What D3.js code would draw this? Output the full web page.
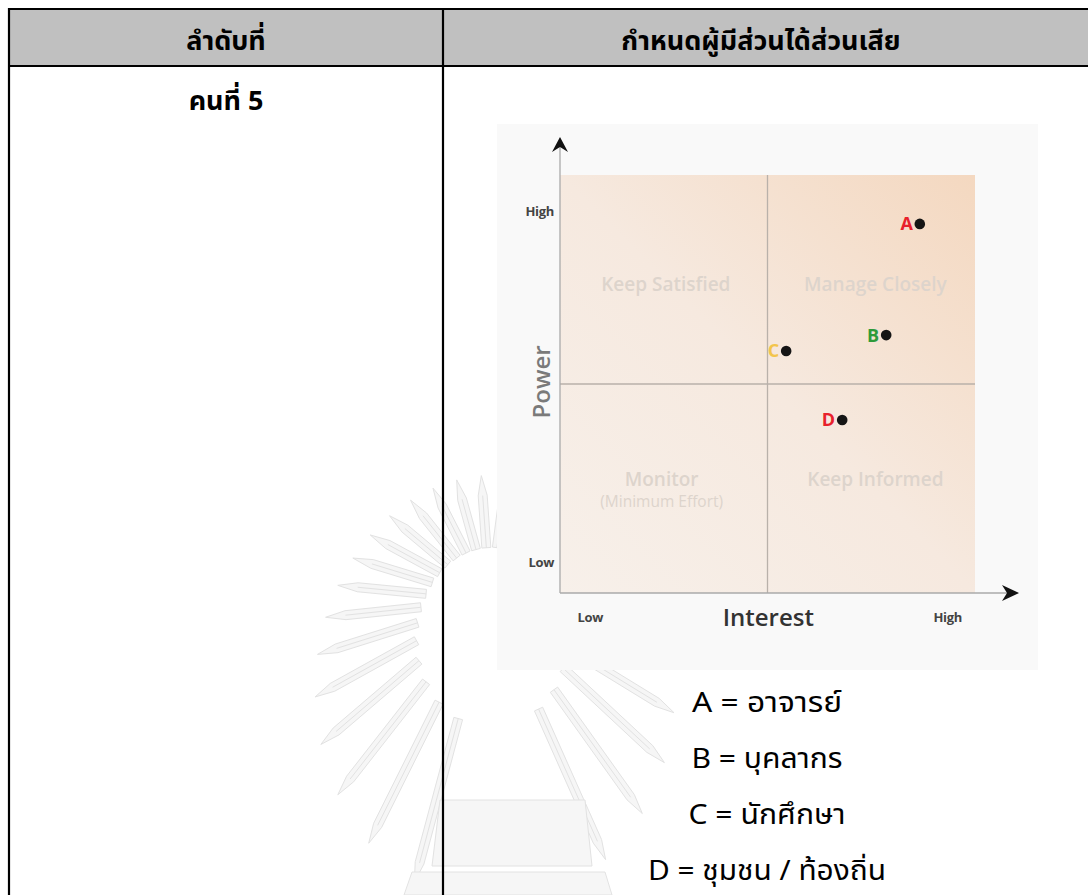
<!DOCTYPE html>
<html><head><meta charset="utf-8">
<script src="https://cdn.jsdelivr.net/npm/d3@7"></script>
<style>
body{margin:0;background:#fff;}
svg{display:block;}
</style></head>
<body>
<svg id="c" width="1088" height="895"></svg>
<script>
// ---- data ----
const headers = ["ลำดับที่", "กำหนดผู้มีส่วนได้ส่วนเสีย"];
const rowLabel = "คนที่ 5";
const stakeholders = ["A", "B", "C", "D"];
const interest = [8.67, 7.86, 5.45, 6.80];
const power = [8.83, 6.17, 5.79, 4.14];
const labelColors = ["#e8212b", "#2e9a3a", "#f3c54c", "#e8212b"];
const quadrantNames = ["Keep Satisfied", "Manage Closely", "Monitor", "Keep Informed"];
const quadrantSub = ["", "", "(Minimum Effort)", ""];
const quadrantX = [2.55, 7.6, 2.45, 7.6];
const quadrantY = [7.22, 7.22, 2.56, 2.56];
const xTickValues = [0.72, 9.33];
const yTickValues = [0.74, 9.14];
const tickLabels = ["Low", "High"];
const legendLines = ["A = อาจารย์", "B = บุคลากร", "C = นักศึกษา", "D = ชุมชน / ท้องถิ่น"];

const svg = d3.select("#c");
const thai = "Tahoma, 'Noto Sans Thai', 'Noto Sans', 'DejaVu Sans', sans-serif";
const latin = "'Open Sans', 'Noto Sans', sans-serif";

// ---- watermark (faint emblem rays, decorative) ----
const wm = svg.append("g").attr("fill", "#f6f6f6").attr("stroke", "#e2e2e2").attr("stroke-width", 1);
const wo = [490, 600], ec = [495, 690], ea = 180, eb = 215;
function tipDist(dx, dy) {
  let lo = 0, hi = 600;
  for (let k = 0; k < 40; k++) {
    const m = (lo + hi) / 2;
    const px = (wo[0] + m * dx - ec[0]) / ea, py = (wo[1] + m * dy - ec[1]) / eb;
    if (px * px + py * py < 1) lo = m; else hi = m;
  }
  return lo;
}
const rayAngles = d3.range(-255, -78, 11.5).concat(d3.range(-72, 72, 11.5));
rayAngles.forEach((a) => {
  const r = a * Math.PI / 180;
  const cx = Math.cos(r), cy = Math.sin(r);
  const r1 = tipDist(cx, cy), r0 = r1 * 0.42, w = 4.5;
  const px = -cy, py = cx;
  const pts = [
    [wo[0] + cx * r0 + px * w, wo[1] + cy * r0 + py * w],
    [wo[0] + cx * (r1 - 20) + px * w, wo[1] + cy * (r1 - 20) + py * w],
    [wo[0] + cx * r1, wo[1] + cy * r1],
    [wo[0] + cx * (r1 - 20) - px * w, wo[1] + cy * (r1 - 20) - py * w],
    [wo[0] + cx * r0 - px * w, wo[1] + cy * r0 - py * w]
  ];
  wm.append("path").attr("d", d3.line()(pts) + "Z");
  wm.append("line").attr("x1", wo[0] + cx * r0).attr("y1", wo[1] + cy * r0)
    .attr("x2", wo[0] + cx * (r1 - 20)).attr("y2", wo[1] + cy * (r1 - 20));
});
wm.append("path").attr("d", "M440,800 L585,800 L592,866 L432,866 Z");
wm.append("path").attr("d", "M412,872 L605,872 L612,895 L404,895 Z");

// ---- table ----
const tLeft = 9, tTop = 9, headBottom = 66, colX = 443;
svg.append("rect").attr("x", tLeft).attr("y", tTop).attr("width", 1088 - tLeft + 5).attr("height", headBottom - tTop)
  .attr("fill", "#c0c0c0");
const tl = svg.append("g").attr("stroke", "#000").attr("stroke-width", 2.2);
tl.append("line").attr("x1", tLeft).attr("x2", 1090).attr("y1", tTop).attr("y2", tTop);
tl.append("line").attr("x1", tLeft).attr("x2", 1090).attr("y1", headBottom).attr("y2", headBottom);
tl.append("line").attr("x1", tLeft).attr("x2", tLeft).attr("y1", tTop - 1).attr("y2", 900);
tl.append("line").attr("x1", colX).attr("x2", colX).attr("y1", tTop - 1).attr("y2", 900);

svg.selectAll("text.hdr").data(headers).join("text").attr("class", "hdr")
  .attr("x", (d, i) => i === 0 ? 226 : 761)
  .attr("y", 50).attr("text-anchor", "middle")
  .attr("font-family", thai).attr("font-weight", "bold").attr("font-size", 27)
  .attr("fill", "#000").text(d => d);
svg.append("text").attr("x", 226).attr("y", 110).attr("text-anchor", "middle")
  .attr("font-family", thai).attr("font-weight", "bold").attr("font-size", 27).text(rowLabel);

// ---- chart image ----
svg.append("rect").attr("x", 497).attr("y", 124).attr("width", 541).attr("height", 546).attr("fill", "#f9f9f9");

const x = d3.scaleLinear().domain([0, 10]).range([560, 975]);
const y = d3.scaleLinear().domain([0, 10]).range([593, 175]);

const defs = svg.append("defs");
const grad = defs.append("linearGradient").attr("id", "peach")
  .attr("x1", "0%").attr("y1", "100%").attr("x2", "100%").attr("y2", "0%");
grad.append("stop").attr("offset", "0%").attr("stop-color", "#f7f0ea");
grad.append("stop").attr("offset", "50%").attr("stop-color", "#f6e9df");
grad.append("stop").attr("offset", "100%").attr("stop-color", "#f4d8c0");

svg.append("rect").attr("x", x(0)).attr("y", y(10)).attr("width", x(10) - x(0)).attr("height", y(0) - y(10))
  .attr("fill", "url(#peach)");

// mid lines
svg.append("line").attr("x1", x(5)).attr("x2", x(5)).attr("y1", y(10)).attr("y2", y(0)).attr("stroke", "#b9b1aa").attr("stroke-width", 1.3);
svg.append("line").attr("x1", x(0)).attr("x2", x(10)).attr("y1", y(5)).attr("y2", y(5)).attr("stroke", "#b9b1aa").attr("stroke-width", 1.3);

// axes lines with arrows
svg.append("line").attr("x1", x(0)).attr("x2", x(0)).attr("y1", y(0)).attr("y2", 142).attr("stroke", "#aaa").attr("stroke-width", 1.3);
svg.append("line").attr("x1", x(0)).attr("x2", 1010).attr("y1", y(0)).attr("y2", y(0)).attr("stroke", "#aaa").attr("stroke-width", 1.3);
svg.append("path").attr("d", `M${x(0)},137 L${x(0) + 8},152 L${x(0)},147 L${x(0) - 8},152 Z`).attr("fill", "#111");
svg.append("path").attr("d", `M1019,${y(0)} L1002,${y(0) - 8} L1007,${y(0)} L1002,${y(0) + 8} Z`).attr("fill", "#111");

// tick labels via axes
const ya = svg.append("g").attr("transform", `translate(${x(0) - 6},0)`)
  .call(d3.axisLeft(y).tickValues(yTickValues).tickSize(0).tickPadding(0).tickFormat((d, i) => tickLabels[i]));
const xa = svg.append("g").attr("transform", `translate(0,${y(0) + 24})`)
  .call(d3.axisBottom(x).tickValues(xTickValues).tickSize(0).tickPadding(0).tickFormat((d, i) => tickLabels[i]));
[ya, xa].forEach(g => {
  g.select(".domain").remove();
  g.selectAll("text").attr("font-family", latin).attr("font-weight", "bold").attr("font-size", 13)
    .attr("fill", "#444").attr("letter-spacing", "-0.3");
});
xa.selectAll("text").attr("dy", "0.35em").attr("y", 0);

// axis titles
svg.append("text").attr("x", x(5.02)).attr("y", 626).attr("text-anchor", "middle")
  .attr("font-family", latin).attr("font-weight", "600").attr("font-size", 24).attr("fill", "#333").text("Interest");
svg.append("text").attr("transform", `translate(550,${y(5.05)}) rotate(-90)`).attr("text-anchor", "middle")
  .attr("font-family", latin).attr("font-weight", "600").attr("font-size", 24).attr("fill", "#7a7a7a").text("Power");

// quadrant labels
svg.selectAll("text.q").data(quadrantNames).join("text").attr("class", "q")
  .attr("x", (d, i) => x(quadrantX[i])).attr("y", (d, i) => y(quadrantY[i]))
  .attr("text-anchor", "middle").attr("font-family", latin).attr("font-weight", "600").attr("font-size", 19)
  .attr("fill", "#ddd4cc").text(d => d);
svg.selectAll("text.qs").data(quadrantSub).join("text").attr("class", "qs")
  .attr("x", (d, i) => x(quadrantX[i])).attr("y", (d, i) => y(quadrantY[i]) + 21)
  .attr("text-anchor", "middle").attr("font-family", latin).attr("font-size", 15.5)
  .attr("fill", "#ddd4cc").text(d => d);

// points
const pts = svg.append("g");
pts.selectAll("circle").data(stakeholders).join("circle")
  .attr("cx", (d, i) => x(interest[i])).attr("cy", (d, i) => y(power[i])).attr("r", 5.3).attr("fill", "#151515");
pts.selectAll("text").data(stakeholders).join("text")
  .attr("x", (d, i) => x(interest[i]) - 7).attr("y", (d, i) => y(power[i]) + 6.5)
  .attr("text-anchor", "end").attr("font-family", latin).attr("font-weight", "bold").attr("font-size", 18)
  .attr("fill", (d, i) => labelColors[i]).text(d => d);

// legend
const legendWidths = [150, 151, 157, 238];
svg.selectAll("text.leg").data(legendLines).join("text").attr("class", "leg")
  .attr("x", 767).attr("y", (d, i) => 712 + i * 56).attr("text-anchor", "middle")
  .attr("font-family", thai).attr("font-size", 28).attr("fill", "#000")
  .attr("textLength", (d, i) => legendWidths[i]).attr("lengthAdjust", "spacingAndGlyphs")
  .text(d => d);
</script>
</body></html>
